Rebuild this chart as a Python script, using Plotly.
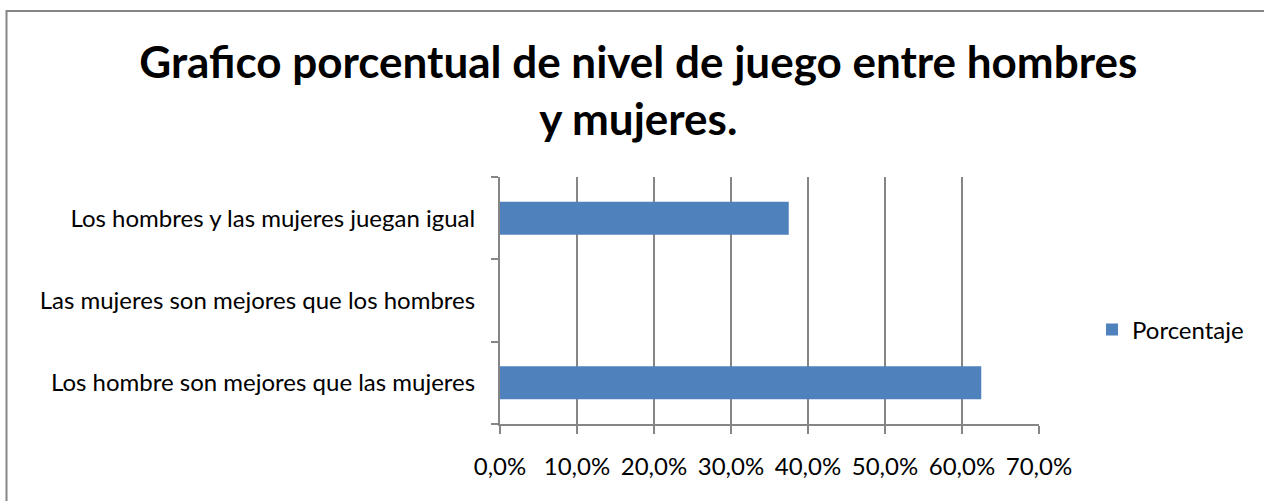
import plotly.graph_objects as go

# Survey results: perceived level of play between men and women
categorias = [
    "Los hombre son mejores que las mujeres",
    "Las mujeres son mejores que los hombres",
    "Los hombres y las mujeres juegan igual",
]
porcentaje = [0.625, 0.0, 0.375]
serie = "Porcentaje"

tick_vals = [0.0, 0.1, 0.2, 0.3, 0.4, 0.5, 0.6, 0.7]
tick_text = ["0,0%", "10,0%", "20,0%", "30,0%", "40,0%", "50,0%", "60,0%", "70,0%"]

titulo = "Grafico porcentual de nivel de juego entre hombres<br>y mujeres."

W, H = 1264, 501
ML, MR, MT, MB = 500, 225, 177, 77
FONT = "Lato"
GRAY = "#868686"

fig = go.Figure()
fig.add_trace(go.Bar(
    x=porcentaje,
    y=categorias,
    orientation="h",
    name=serie,
    showlegend=True,
    marker=dict(color="#4F81BD", line=dict(width=0)),
))

pw = W - ML - MR
ph = H - MT - MB


def px_x(p):
    return (p - ML) / pw


def px_y(p):
    return (H - MB - p) / ph


# outer chart frame (left and top edges visible)
fig.add_shape(
    type="rect", xref="paper", yref="paper",
    x0=px_x(6.5), x1=px_x(W + 10), y0=px_y(H + 10), y1=px_y(11),
    line=dict(color=GRAY, width=2), fillcolor="rgba(0,0,0,0)", layer="below",
)

fig.update_layout(
    width=W, height=H,
    margin=dict(l=ML, r=MR, t=MT, b=MB, pad=0, autoexpand=False),
    paper_bgcolor="white", plot_bgcolor="white",
    font=dict(family=FONT, color="#000000", size=24),
    title=dict(
        text=titulo, x=0.505, xref="container", xanchor="center",
        y=1 - 78 / H, yref="container", yanchor="top",
        font=dict(family=FONT, size=44, color="#000000", weight="bold"),
    ),
    bargap=0.6,
    legend=dict(
        x=1092 / W, xref="container", y=1 - 330 / H, yref="container",
        xanchor="left", yanchor="middle",
        font=dict(family=FONT, size=24), bgcolor="rgba(0,0,0,0)",
        itemwidth=30, traceorder="normal",
    ),
    xaxis=dict(
        range=[0, 0.7], tickvals=tick_vals, ticktext=tick_text,
        showgrid=True, gridcolor=GRAY, gridwidth=1.5,
        showline=True, linecolor=GRAY, linewidth=2,
        ticks="outside", ticklen=8, tickcolor=GRAY, tickwidth=1.5,
        ticklabelstandoff=12, zeroline=False, automargin=False,
        tickfont=dict(family=FONT, size=24),
        fixedrange=True,
    ),
    yaxis=dict(
        categoryorder="array", categoryarray=categorias,
        showline=True, linecolor=GRAY, linewidth=2,
        ticks="outside", ticklen=7, tickcolor=GRAY, tickwidth=1.5,
        tickson="boundaries", ticklabelstandoff=18,
        showgrid=False, zeroline=False, automargin=False,
        tickfont=dict(family=FONT, size=24),
        fixedrange=True,
    ),
)

fig.write_html("out.html")
